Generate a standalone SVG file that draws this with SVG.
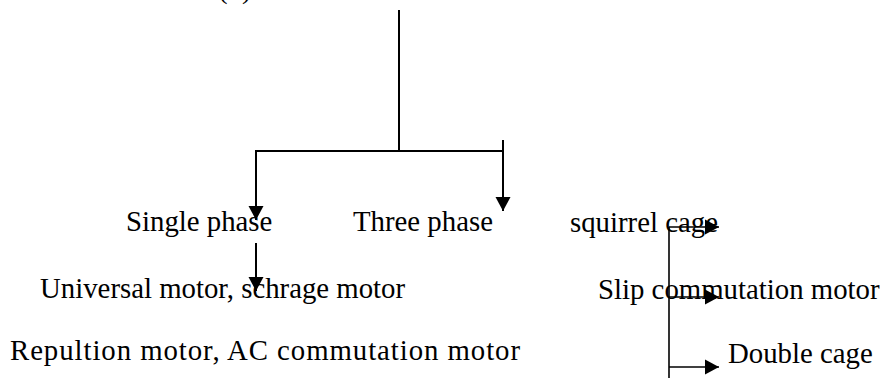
<svg xmlns="http://www.w3.org/2000/svg" width="884" height="378" viewBox="0 0 884 378">
<style>
text{font-family:"Liberation Serif","Times New Roman",serif;font-size:28.8px;fill:#000}
.ln{stroke:#000;stroke-width:2;fill:none}
.br{stroke:#000;stroke-width:1.6;fill:none}
</style>
<defs>
<marker id="ah" markerUnits="userSpaceOnUse" markerWidth="16" markerHeight="16" refX="14" refY="8" orient="auto" viewBox="0 0 16 16">
<path d="M0,0.5 L14,8 L0,15.5 Z" fill="#000"/>
</marker>
</defs>
<g id="top-label"><text x="218" y="-2" xml:space="preserve">(  )</text></g>
<g id="connectors">
<line class="ln" x1="399" y1="10" x2="399" y2="151"/>
<line class="ln" x1="255" y1="151" x2="504" y2="151"/>
<line class="ln" x1="256" y1="151" x2="256" y2="220" marker-end="url(#ah)"/>
<line class="ln" x1="503" y1="140" x2="503" y2="211" marker-end="url(#ah)"/>
<line class="ln" x1="256" y1="243" x2="256" y2="291" marker-end="url(#ah)"/>
<line class="br" x1="669" y1="227" x2="669" y2="378"/>
<line class="br" x1="669" y1="227" x2="719" y2="227" marker-end="url(#ah)"/>
<line class="br" x1="669" y1="297" x2="719" y2="297" marker-end="url(#ah)"/>
<line class="br" x1="669" y1="367" x2="719" y2="367" marker-end="url(#ah)"/>
</g>
<g id="single-phase"><text x="126" y="231">Single phase</text></g>
<g id="three-phase"><text x="353" y="231">Three phase</text></g>
<g id="squirrel-cage"><text x="570" y="232">squirrel cage</text></g>
<g id="universal"><text x="40" y="298">Universal motor, schrage motor</text></g>
<g id="slip"><text x="598" y="299">Slip commutation motor</text></g>
<g id="repultion"><text x="10" y="360" textLength="510" lengthAdjust="spacing">Repultion motor, AC commutation motor</text></g>
<g id="double-cage"><text x="728" y="363">Double cage</text></g>
</svg>
